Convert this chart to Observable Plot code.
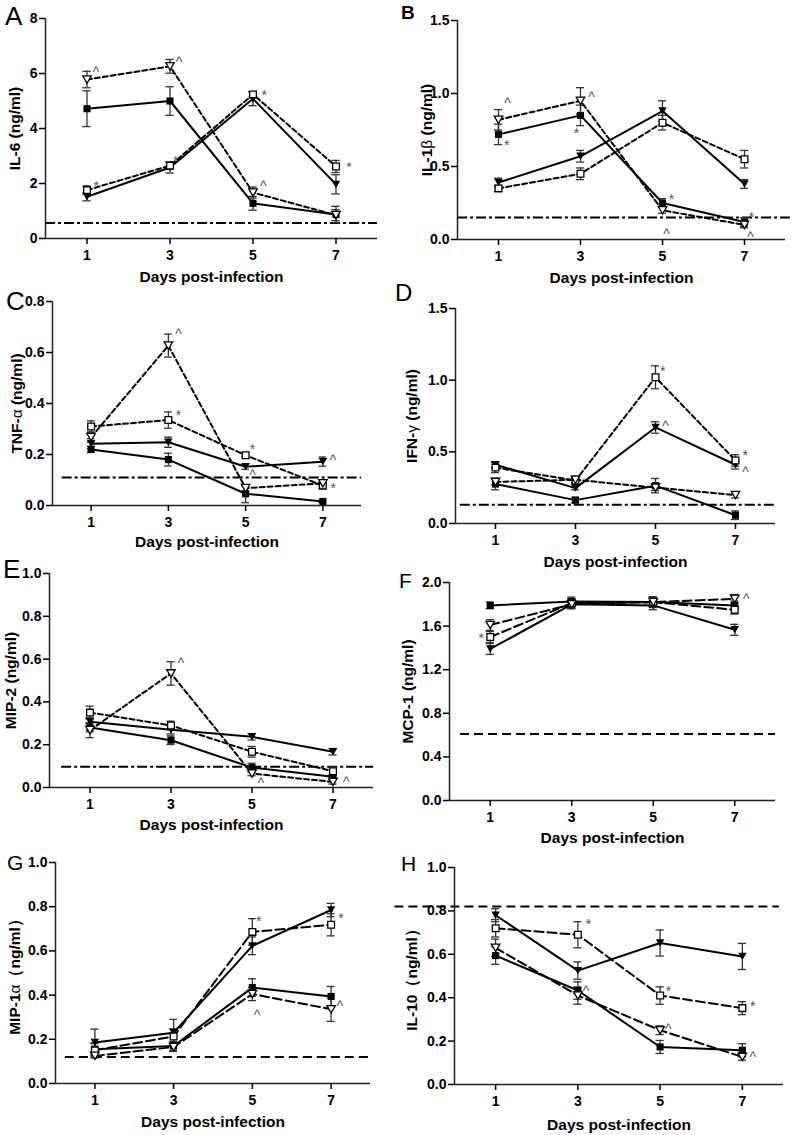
<!DOCTYPE html>
<html><head><meta charset="utf-8">
<script src="https://cdn.jsdelivr.net/npm/d3@7"></script>
<script src="https://cdn.jsdelivr.net/npm/@observablehq/plot@0.6"></script>
<style>
body{margin:0;background:#fff;}
#fig{position:relative;width:793px;height:1135px;overflow:hidden;background:#fff;}
#fig svg{position:absolute;}
</style></head><body><div id="fig"></div>
<script>
// ---------- DATA ----------
const days = [1, 3, 5, 7];
// series order in every panel:
// 0 = filled square (solid), 1 = filled inverted triangle (solid),
// 2 = open square (dashed), 3 = open inverted triangle (dashed)
const panelLetters = ["A", "B", "C", "D", "E", "F", "G", "H"];
const yLabels = ["IL-6 (ng/ml)", "IL-1β (ng/ml)", "TNF-α (ng/ml)", "IFN-γ (ng/ml)",
                 "MIP-2 (ng/ml)", "MCP-1 (ng/ml)", "MIP-1α（ng/ml）", "IL-10（ng/ml）"];
const xLabel = "Days post-infection";
const yMax = [8, 1.5, 0.8, 1.5, 1.0, 2.0, 1.0, 1.0];
const yTicks = [
  [0, 2, 4, 6, 8], [0, 0.5, 1.0, 1.5], [0, 0.2, 0.4, 0.6, 0.8], [0, 0.5, 1.0, 1.5],
  [0, 0.2, 0.4, 0.6, 0.8, 1.0], [0, 0.4, 0.8, 1.2, 1.6, 2.0],
  [0, 0.2, 0.4, 0.6, 0.8, 1.0], [0, 0.2, 0.4, 0.6, 0.8, 1.0]
];
const xTicks = [1, 3, 5, 7];
const baseline = [0.56, 0.15, 0.11, 0.13, 0.097, 0.61, 0.12, 0.82];

const il6Mean  = [[4.72, 5.0, 1.28, 0.87], [1.52, 2.58, 5.08, 1.97], [1.76, 2.65, 5.24, 2.62], [5.78, 6.26, 1.67, 0.85]];
const il6Err   = [[0.65, 0.52, 0.25, 0.30], [0.15, 0.20, 0.25, 0.35], [0.15, 0.12, 0.10, 0.22], [0.30, 0.25, 0.20, 0.20]];
const il1bMean = [[0.72, 0.85, 0.25, 0.12], [0.39, 0.57, 0.88, 0.38], [0.35, 0.45, 0.80, 0.55], [0.82, 0.95, 0.20, 0.10]];
const il1bErr  = [[0.07, 0.07, 0.03, 0.03], [0.03, 0.04, 0.07, 0.03], [0.02, 0.04, 0.05, 0.06], [0.07, 0.09, 0.02, 0.02]];
const tnfMean  = [[0.22, 0.18, 0.046, 0.016], [0.242, 0.248, 0.152, 0.172], [0.31, 0.335, 0.197, 0.078], [0.268, 0.627, 0.068, 0.087]];
const tnfErr   = [[0.012, 0.025, 0.035, 0.005], [0.02, 0.02, 0.01, 0.018], [0.022, 0.032, 0.006, 0.012], [0.02, 0.045, 0.01, 0.01]];
const ifnMean  = [[0.275, 0.163, 0.264, 0.058], [0.41, 0.247, 0.67, 0.41], [0.39, 0.30, 1.02, 0.44], [0.29, 0.305, 0.25, 0.198]];
const ifnErr   = [[0.04, 0.02, 0.05, 0.03], [0.02, 0.012, 0.04, 0.03], [0.035, 0.03, 0.08, 0.04], [0.02, 0.02, 0.02, 0.02]];
const mip2Mean = [[0.28, 0.221, 0.093, 0.05], [0.307, 0.27, 0.237, 0.167], [0.35, 0.29, 0.167, 0.076], [0.268, 0.533, 0.065, 0.026]];
const mip2Err  = [[0.02, 0.02, 0.02, 0.012], [0.02, 0.02, 0.015, 0.015], [0.03, 0.02, 0.025, 0.02], [0.035, 0.055, 0.01, 0.01]];
const mcp1Mean = [[1.79, 1.826, 1.82, 1.79], [1.39, 1.80, 1.79, 1.566], [1.50, 1.81, 1.82, 1.75], [1.61, 1.80, 1.82, 1.85]];
const mcp1Err  = [[0.03, 0.04, 0.04, 0.04], [0.05, 0.04, 0.04, 0.05], [0.05, 0.04, 0.05, 0.04], [0.05, 0.04, 0.04, 0.04]];
const mip1aMean = [[0.155, 0.17, 0.434, 0.394], [0.186, 0.23, 0.623, 0.785], [0.15, 0.213, 0.686, 0.718], [0.125, 0.165, 0.405, 0.336]];
const mip1aErr  = [[0.03, 0.02, 0.04, 0.045], [0.06, 0.06, 0.04, 0.03], [0.03, 0.035, 0.06, 0.05], [0.01, 0.02, 0.03, 0.055]];
const il10Mean = [[0.594, 0.433, 0.173, 0.158], [0.78, 0.525, 0.652, 0.59], [0.72, 0.69, 0.41, 0.352], [0.63, 0.41, 0.25, 0.127]];
const il10Err  = [[0.04, 0.04, 0.03, 0.03], [0.03, 0.04, 0.06, 0.06], [0.04, 0.06, 0.04, 0.03], [0.04, 0.04, 0.02, 0.015]];

// significance marks: [day, value, symbol]
const il6Sig   = [[1.22, 6.18, "^"], [3.22, 6.54, "^"], [1.22, 2.04, "*"], [3.14, 2.95, "*"], [5.27, 5.33, "*"], [5.25, 2.04, "^"], [7.31, 2.71, "*"]];
const il1bSig  = [[1.22, 0.96, "^"], [3.27, 1.0, "^"], [1.2, 0.67, "*"], [2.9, 0.75, "*"], [5.22, 0.30, "*"], [5.1, 0.06, "^"], [7.17, 0.176, "*"], [7.15, 0.04, "^"]];
const tnfSig   = [[3.26, 0.685, "^"], [3.26, 0.37, "*"], [5.18, 0.235, "*"], [5.18, 0.134, "^"], [7.26, 0.193, "^"], [7.27, 0.082, "*"]];
const ifnSig   = [[5.18, 1.087, "*"], [5.25, 0.707, "^"], [7.24, 0.504, "*"], [7.25, 0.387, "^"]];
const mip2Sig  = [[3.25, 0.60, "^"], [5.22, 0.037, "^"], [7.33, 0.042, "^"]];
const mcp1Sig  = [[0.78, 1.52, "*"], [7.28, 1.88, "^"]];
const mip1aSig = [[5.16, 0.75, "*"], [7.25, 0.763, "*"], [5.12, 0.326, "^"], [7.22, 0.366, "^"]];
const il10Sig  = [[3.26, 0.755, "*"], [3.2, 0.449, "^"], [5.2, 0.449, "*"], [5.2, 0.273, "^"], [7.25, 0.38, "*"], [7.25, 0.142, "^"]];

const means = [il6Mean, il1bMean, tnfMean, ifnMean, mip2Mean, mcp1Mean, mip1aMean, il10Mean];
const errs  = [il6Err, il1bErr, tnfErr, ifnErr, mip2Err, mcp1Err, mip1aErr, il10Err];
const sigs  = [il6Sig, il1bSig, tnfSig, ifnSig, mip2Sig, mcp1Sig, mip1aSig, il10Sig];

// ---------- LAYOUT / STYLE ----------
const layout = [
  {l: 45,  r: 377, t: 18,  b: 238,  yOff: 30, xOff: 39, ref: [0, 8.0],    dash: "5,3", refDash: "10,3,3,3"},
  {l: 457, r: 785, t: 20,  b: 239,  yOff: 30, xOff: 39, ref: [0, 8.12],   dash: "5,3", refDash: "10,3,3,3"},
  {l: 52,  r: 361, t: 301, b: 505,  yOff: 35, xOff: 37, ref: [0.25, 8.0], dash: "5,3", refDash: "10,3,3,3"},
  {l: 455, r: 775, t: 308, b: 523,  yOff: 43, xOff: 39, ref: [0.12, 8.0], dash: "5,3", refDash: "10,3,3,3"},
  {l: 49,  r: 373, t: 573, b: 787,  yOff: 38, xOff: 38, ref: [0.3, 8.0],  dash: "5,3", refDash: "10,3,3,3"},
  {l: 449, r: 775, t: 582, b: 800,  yOff: 41, xOff: 38, ref: [0.27, 8.0], dash: "9,4", refDash: "9,5"},
  {l: 55,  r: 370, t: 862, b: 1083, yOff: 40, xOff: 39, ref: [0.25, 8.05], dash: "9,4", refDash: "9,5"},
  {l: 454, r: 783, t: 867, b: 1084, yOff: 42, xOff: 41, ref: [-1.45, 7.9], dash: "9,4", refDash: "9,5"}
];
const letterStyle = [
  {x: 5, y: 25, size: 26, weight: "normal"}, {x: 401, y: 19, size: 19, weight: "bold"},
  {x: 6, y: 310, size: 26, weight: "normal"}, {x: 395, y: 301, size: 24, weight: "normal"},
  {x: 3, y: 578, size: 26, weight: "normal"}, {x: 399, y: 588, size: 21, weight: "normal"},
  {x: 7, y: 870, size: 21, weight: "normal"}, {x: 401, y: 871, size: 21, weight: "normal"}
];
const FONT = "'Liberation Sans', Arial, Helvetica, sans-serif";

const triangleDown = {
  draw(ctx, size) {
    const s = Math.sqrt(size);
    const w = s * 0.6, h = s * 0.52;
    ctx.moveTo(-w, -h);
    ctx.lineTo(w, -h);
    ctx.lineTo(0, h);
    ctx.closePath();
  }
};

const fig = document.getElementById("fig");

layout.forEach((L, i) => {
  const col = L.l > 390 ? 1 : 0;
  const svgLeft = col ? 395 : 0;
  const svgW = col ? 398 : 395;
  const svgTop = Math.max(0, L.t - 20);
  const svgH = L.b + 56 - svgTop;
  const rows = [];
  means[i].forEach((ser, s) => ser.forEach((v, d) => rows.push({series: s, day: days[d], mean: v, err: errs[i][s][d]})));
  const sig = sigs[i].map(([day, value, sym]) => ({day, value, sym}));
  const fmt = i === 0 ? d3.format("d") : d3.format(".1f");
  const cap = 0.1;

  const plot = Plot.plot({
    width: svgW, height: svgH,
    marginLeft: L.l - svgLeft, marginRight: svgLeft + svgW - L.r,
    marginTop: L.t - svgTop, marginBottom: svgTop + svgH - L.b,
    x: {domain: [0, 8]},
    y: {domain: [0, yMax[i]]},
    style: {fontFamily: FONT, fontSize: "14px", fontWeight: "bold", color: "#000", background: "transparent", overflow: "visible"},
    marks: [
      Plot.ruleY([baseline[i]], {x1: L.ref[0], x2: L.ref[1], stroke: "#000", strokeWidth: 2, strokeDasharray: L.refDash}),
      Plot.ruleX(rows, {x: "day", y1: d => d.mean - d.err, y2: d => d.mean + d.err, stroke: "#333", strokeWidth: 1.3}),
      Plot.ruleY(rows, {y: d => d.mean + d.err, x1: d => d.day - cap, x2: d => d.day + cap, stroke: "#333", strokeWidth: 1.3}),
      Plot.ruleY(rows, {y: d => d.mean - d.err, x1: d => d.day - cap, x2: d => d.day + cap, stroke: "#333", strokeWidth: 1.3}),
      Plot.line(rows.filter(d => d.series < 2), {x: "day", y: "mean", z: "series", stroke: "#000", strokeWidth: 2}),
      Plot.line(rows.filter(d => d.series >= 2), {x: "day", y: "mean", z: "series", stroke: "#000", strokeWidth: 2, strokeDasharray: L.dash}),
      Plot.dot(rows.filter(d => d.series === 0), {x: "day", y: "mean", symbol: "square", r: 4, fill: "#000"}),
      Plot.dot(rows.filter(d => d.series === 1), {x: "day", y: "mean", symbol: triangleDown, r: 4, fill: "#000"}),
      Plot.dot(rows.filter(d => d.series === 2), {x: "day", y: "mean", symbol: "square", r: 3.8, fill: "#fff", stroke: "#000", strokeWidth: 1.3}),
      Plot.dot(rows.filter(d => d.series === 3), {x: "day", y: "mean", symbol: triangleDown, r: 4, fill: "#fff", stroke: "#000", strokeWidth: 1.3}),
      Plot.text(sig, {x: "day", y: "value", text: "sym", fill: "#555", fontSize: 14, fontWeight: "normal", dy: 4}),
      Plot.ruleX([0], {stroke: "#222", strokeWidth: 1.5}),
      Plot.ruleY([0], {stroke: "#222", strokeWidth: 1.5}),
      Plot.axisY({ticks: yTicks[i], tickFormat: fmt, tickSize: 6, tickPadding: 2, label: null, strokeWidth: 1.5}),
      Plot.axisX({ticks: xTicks, tickFormat: d3.format("d"), tickSize: 6, tickPadding: 6, label: null, strokeWidth: 1.5}),
      Plot.text([xLabel], {text: d => d, frameAnchor: "bottom", textAnchor: "middle", lineAnchor: "middle", dy: L.xOff, fontSize: 15.5, fontWeight: "bold"}),
      Plot.text([yLabels[i]], {text: d => d, frameAnchor: "left", textAnchor: "middle", lineAnchor: "middle", dx: -L.yOff, rotate: -90, fontSize: 15.5, fontWeight: "bold"})
    ]
  });
  plot.style.left = svgLeft + "px";
  plot.style.top = svgTop + "px";
  plot.style.maxWidth = "none";
  // Greek letters in a lighter weight
  plot.querySelectorAll("text").forEach(t => {
    if (t.textContent === yLabels[i] && /[αβγ]/.test(yLabels[i])) {
      const m = yLabels[i].match(/^(.*?)([αβγ])(.*)$/);
      t.textContent = "";
      [[m[1], "bold"], [m[2], "normal"], [m[3], "bold"]].forEach(([s, w]) => {
        const ts = document.createElementNS("http://www.w3.org/2000/svg", "tspan");
        ts.textContent = s;
        ts.setAttribute("font-weight", w);
        t.appendChild(ts);
      });
    }
  });
  fig.appendChild(plot);
});

// panel letters
const ns = "http://www.w3.org/2000/svg";
const over = document.createElementNS(ns, "svg");
over.setAttribute("width", 793); over.setAttribute("height", 1135);
over.style.left = "0px"; over.style.top = "0px"; over.style.pointerEvents = "none";
panelLetters.forEach((p, i) => {
  const s = letterStyle[i];
  const t = document.createElementNS(ns, "text");
  t.setAttribute("x", s.x); t.setAttribute("y", s.y);
  t.setAttribute("font-family", FONT); t.setAttribute("font-size", s.size);
  t.setAttribute("font-weight", s.weight);
  t.textContent = p;
  over.appendChild(t);
});
fig.appendChild(over);
</script></body></html>
